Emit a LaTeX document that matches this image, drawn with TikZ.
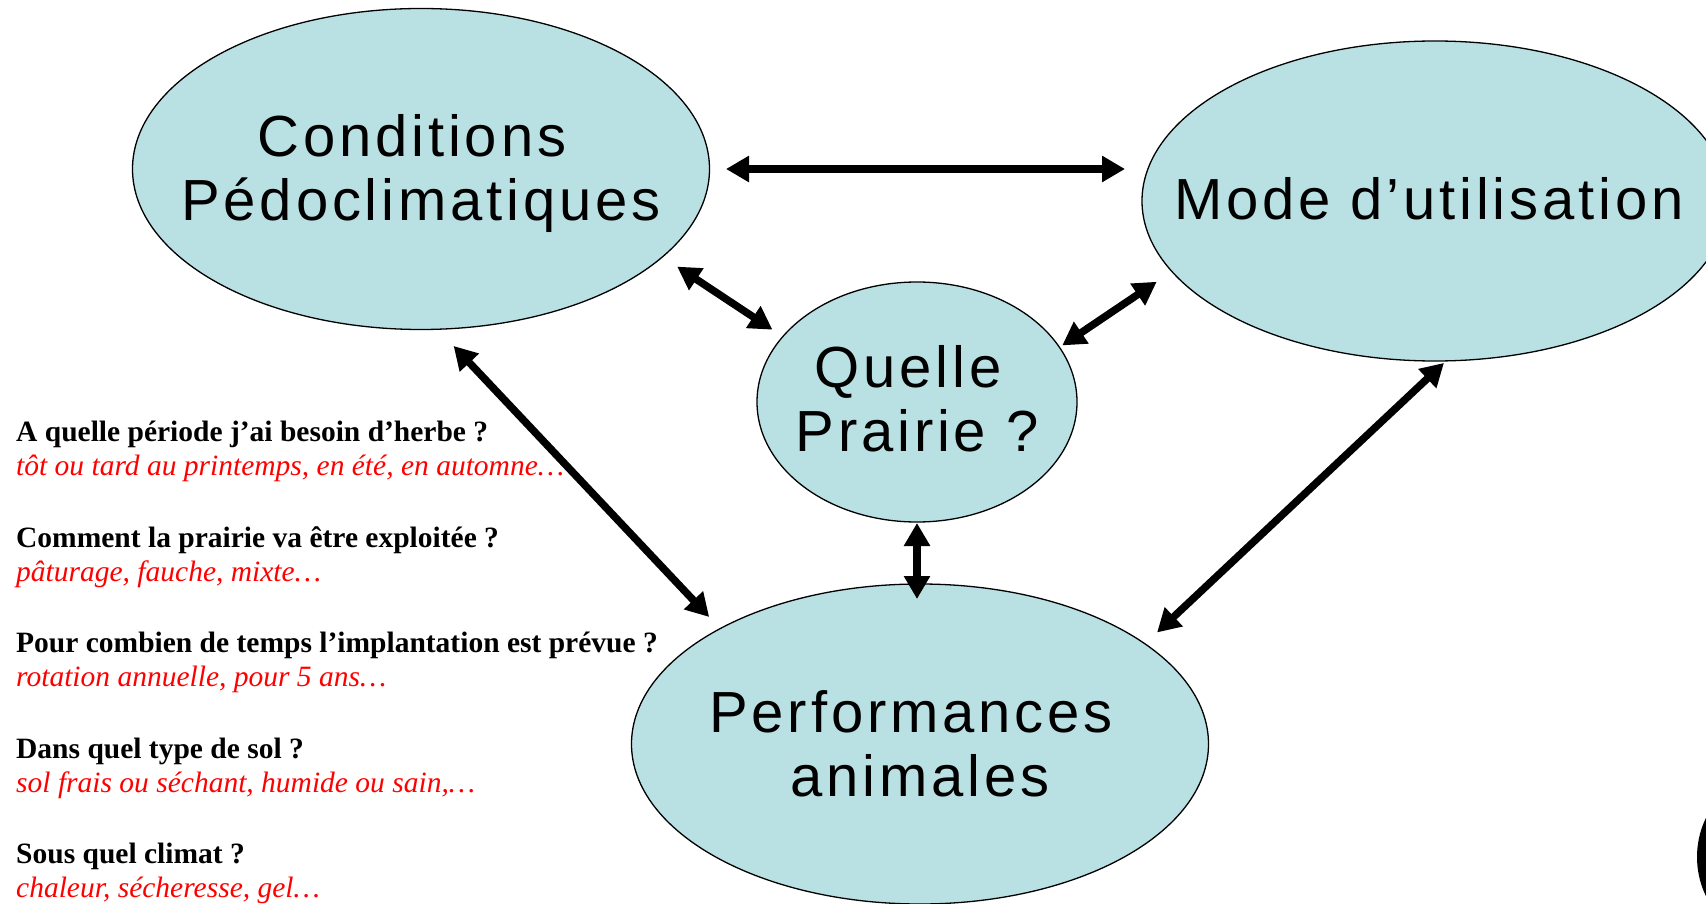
\documentclass[tikz,border=0pt]{standalone}
\usepackage{fontspec}
\setmainfont{Liberation Serif}
\newfontfamily\bulle[LetterSpace=6.6]{Liberation Sans}
\usetikzlibrary{arrows.meta,shapes.geometric}
\definecolor{bleu}{RGB}{185,224,227}
\definecolor{rouge}{RGB}{255,0,0}

\begin{document}
\begin{tikzpicture}[x=1pt,y=-1pt,
    bulle/.style={ellipse,draw,fill=bleu,line width=1.3pt,inner sep=0pt,outer sep=0pt},
    titre/.style={font=\bulle\fontsize{58}{64}\selectfont,align=center,inner sep=0pt},
    fleche/.style={line width=7.5pt,{Triangle[length=23pt,width=25pt]}-{Triangle[length=23pt,width=25pt]}},
    question/.style={anchor=base west,inner sep=0pt,font=\fontsize{29.5}{34}\selectfont\bfseries},
    reponse/.style={anchor=base west,inner sep=0pt,text=rouge,font=\fontsize{29.5}{34}\selectfont\itshape}]
  \useasboundingbox (0,0) rectangle (1706,904);
  \clip (0,0) rectangle (1706,904);
  % les bulles
  \node[bulle,minimum width=577pt,minimum height=321pt] (cond) at (421,169) {};
  \node[bulle,minimum width=586pt,minimum height=320pt] (mode) at (1435,201) {};
  \node[bulle,minimum width=320pt,minimum height=240pt] (quelle) at (917,402) {};
  \node[bulle,minimum width=577pt,minimum height=320pt] (perf) at (920,744) {};
  \node[titre] (condtxt) at ([yshift=-5pt]cond) {Conditions\kern18pt\\Pédoclimatiques};
  \node[titre] (modetxt) at ([xshift=-6pt,yshift=2pt]mode) {Mode d’utilisation};
  \node[titre] (quelletxt) at ([yshift=3pt]quelle) {Quelle\kern18pt\\Prairie ?};
  \node[titre] (perftxt) at (perf) {Performances\kern18pt\\animales};
  \fill (1787,857) circle[radius=90];
  % les fleches
  \draw[fleche,shorten <=16.5pt,shorten >=17pt] (cond.east) -- (cond.east -| mode.west);
  \draw[fleche,shorten <=17.7pt,shorten >=12.5pt] (cond.-20) -- (quelle.154);
  \draw[fleche,shorten <=3.4pt,shorten >=18.4pt] (quelle.21) -- (mode.-165);
  \draw[fleche,shorten <=23pt,shorten >=16pt] (cond.-84) -- (perf.150);
  \draw[fleche,shorten <=1pt,shorten >=-15pt] (quelle.south) -- (quelle.south |- perf.north);
  \draw[fleche,shorten <=3pt,shorten >=16.6pt] (mode.-86) -- (perf.24);
  % les questions
  \node[question] (q1) at (16,441.7) {A quelle période j’ai besoin d’herbe ?};
  \node[reponse] (r1) at (16,475.5) {tôt ou tard au printemps, en été, en automne…};
  \node[question] (q2) at (16,547.3) {Comment la prairie va être exploitée ?};
  \node[reponse] (r2) at (16,581) {pâturage, fauche, mixte…};
  \node[question] (q3) at (16,652.8) {Pour combien de temps l’implantation est prévue ?};
  \node[reponse] (r3) at (16,686.5) {rotation annuelle, pour 5 ans…};
  \node[question] (q4) at (16,758.3) {Dans quel type de sol ?};
  \node[reponse] (r4) at (16,792) {sol frais ou séchant, humide ou sain,…};
  \node[question] (q5) at (16,863.9) {Sous quel climat ?};
  \node[reponse] (r5) at (16,897.6) {chaleur, sécheresse, gel…};
\end{tikzpicture}
\end{document}
